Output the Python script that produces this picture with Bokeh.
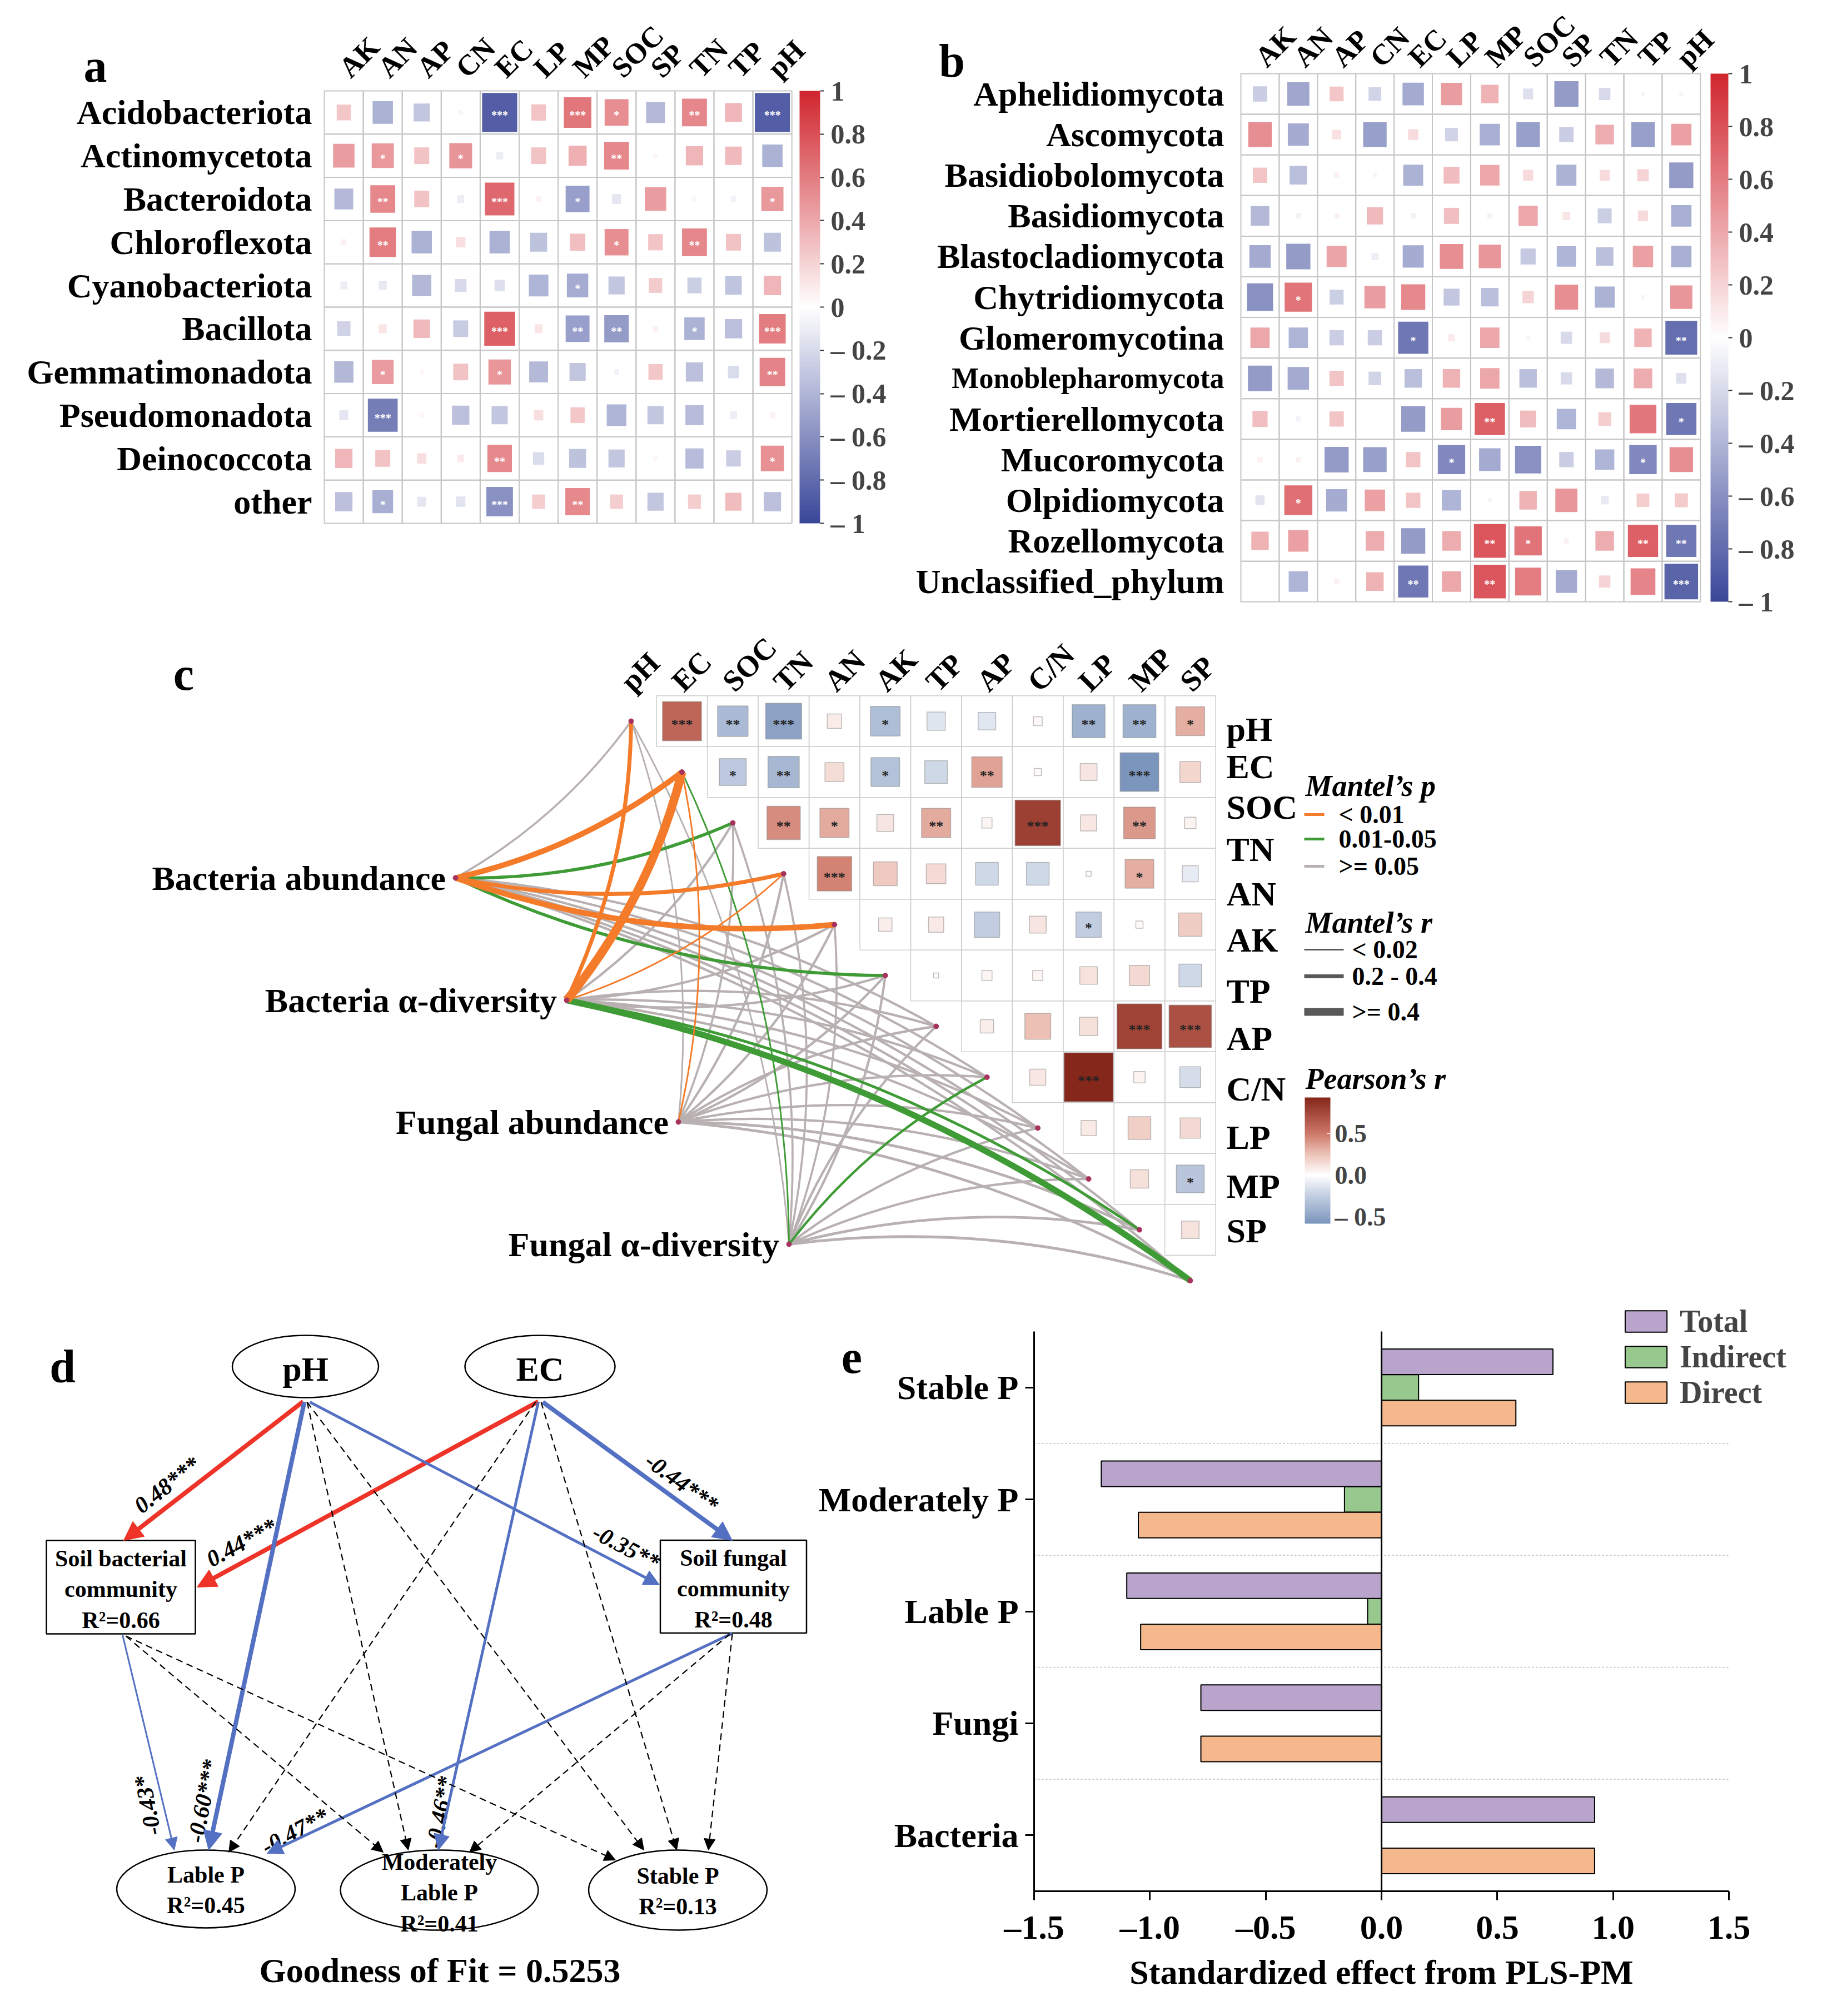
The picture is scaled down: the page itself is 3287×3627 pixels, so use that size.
import math
from bokeh.plotting import figure
from bokeh.layouts import column, row
from bokeh.models import (ColumnDataSource, Range1d, ColorBar, LinearColorMapper,
                          FixedTicker, Legend, LegendItem, Arrow, NormalHead,
                          CustomJSTickFormatter, AllLabels)
from bokeh.core.properties import value
from bokeh.transform import transform, dodge
from bokeh.embed import file_html
from bokeh.resources import INLINE

SERIF = "Liberation Serif"

# ============================ DATA ============================
# ---- (a) bacterial phyla vs soil properties (Pearson r) ----
soil_vars = ["AK", "AN", "AP", "CN", "EC", "LP", "MP", "SOC", "SP", "TN", "TP", "pH"]
bact_phyla = ["Acidobacteriota", "Actinomycetota", "Bacteroidota", "Chloroflexota",
              "Cyanobacteriota", "Bacillota", "Gemmatimonadota", "Pseudomonadota",
              "Deinococcota", "other"]
bact_r = [
    [0.26, -0.42, -0.31, -0.05, -0.87, 0.27, 0.63, 0.52, -0.38, 0.55, 0.33, -0.87],
    [0.45, 0.47, 0.28, 0.49, -0.10, 0.28, 0.36, 0.55, 0.05, 0.34, 0.32, -0.42],
    [-0.38, 0.55, 0.28, -0.10, 0.69, 0.07, -0.52, -0.14, 0.45, 0.05, -0.07, 0.47],
    [0.07, 0.60, -0.42, 0.15, -0.42, -0.33, 0.29, 0.52, 0.27, 0.55, 0.28, -0.33],
    [-0.10, -0.12, -0.39, -0.20, -0.17, -0.40, -0.45, -0.31, 0.24, -0.26, -0.32, 0.34],
    [-0.24, 0.12, 0.32, -0.28, 0.73, 0.12, -0.52, -0.54, 0.07, -0.42, -0.34, 0.60],
    [-0.39, 0.46, 0.05, 0.28, 0.48, -0.38, -0.31, -0.07, 0.26, -0.34, -0.19, 0.57],
    [-0.14, -0.70, 0.05, -0.34, -0.31, 0.15, 0.26, -0.40, -0.31, -0.36, -0.10, 0.07],
    [0.34, 0.28, 0.15, 0.10, 0.54, -0.19, -0.33, -0.31, 0.05, -0.36, -0.27, 0.50],
    [-0.34, -0.43, -0.14, -0.15, -0.60, 0.23, 0.54, 0.23, -0.31, 0.23, 0.31, -0.34],
]
bact_sig = {
    ("Acidobacteriota", "EC"): "***", ("Acidobacteriota", "MP"): "***",
    ("Acidobacteriota", "SOC"): "*", ("Acidobacteriota", "TN"): "**",
    ("Acidobacteriota", "pH"): "***",
    ("Actinomycetota", "AN"): "*", ("Actinomycetota", "CN"): "*", ("Actinomycetota", "SOC"): "**",
    ("Bacteroidota", "AN"): "**", ("Bacteroidota", "EC"): "***", ("Bacteroidota", "MP"): "*",
    ("Bacteroidota", "pH"): "*",
    ("Chloroflexota", "AN"): "**", ("Chloroflexota", "SOC"): "*", ("Chloroflexota", "TN"): "**",
    ("Cyanobacteriota", "MP"): "*",
    ("Bacillota", "EC"): "***", ("Bacillota", "MP"): "**", ("Bacillota", "SOC"): "**",
    ("Bacillota", "TN"): "*", ("Bacillota", "pH"): "***",
    ("Gemmatimonadota", "AN"): "*", ("Gemmatimonadota", "EC"): "*", ("Gemmatimonadota", "pH"): "**",
    ("Pseudomonadota", "AN"): "***",
    ("Deinococcota", "EC"): "**", ("Deinococcota", "pH"): "*",
    ("other", "AN"): "*", ("other", "EC"): "***", ("other", "MP"): "**",
}

# ---- (b) fungal phyla vs soil properties ----
fungi_phyla = ["Aphelidiomycota", "Ascomycota", "Basidiobolomycota", "Basidiomycota",
               "Blastocladiomycota", "Chytridiomycota", "Glomeromycotina", "Monoblepharomycota",
               "Mortierellomycota", "Mucoromycota", "Olpidiomycota", "Rozellomycota",
               "Unclassified_phylum"]
fungi_r = [
    [-0.27, -0.48, 0.26, -0.23, -0.46, 0.45, 0.35, -0.17, -0.54, -0.20, -0.05, -0.05],
    [0.52, -0.45, 0.14, -0.52, 0.17, -0.23, -0.43, -0.52, -0.27, 0.38, -0.52, 0.43],
    [0.27, -0.35, 0.07, -0.05, -0.42, 0.31, 0.40, 0.17, -0.42, 0.17, 0.20, -0.54],
    [-0.38, -0.07, 0.07, 0.32, -0.07, 0.29, -0.07, 0.40, 0.12, -0.26, 0.17, -0.43],
    [-0.46, -0.54, 0.42, -0.10, -0.45, 0.52, 0.48, -0.29, -0.40, -0.35, 0.43, -0.43],
    [-0.60, 0.64, -0.26, 0.45, 0.54, -0.31, -0.35, 0.20, 0.52, -0.42, -0.05, 0.48],
    [0.40, -0.40, -0.27, -0.27, -0.73, 0.10, 0.40, -0.05, -0.20, 0.17, 0.35, -0.78],
    [-0.54, -0.46, 0.27, -0.23, -0.35, 0.35, 0.40, -0.35, -0.20, -0.38, 0.38, -0.17],
    [0.29, -0.07, 0.27, 0.02, -0.54, 0.45, 0.73, 0.31, -0.40, 0.23, 0.62, -0.73],
    [0.07, 0.07, -0.54, -0.52, 0.27, -0.64, -0.46, -0.60, -0.27, -0.40, -0.64, 0.52],
    [-0.15, 0.66, -0.45, 0.43, 0.27, -0.40, -0.05, 0.35, 0.48, -0.12, 0.23, 0.24],
    [0.35, 0.43, 0.02, 0.38, -0.54, 0.38, 0.78, 0.64, 0.07, 0.38, 0.73, -0.73],
    [0.02, -0.40, 0.07, 0.35, -0.73, 0.40, 0.78, 0.60, -0.46, 0.20, 0.56, -0.84],
]
fungi_sig = {
    ("Chytridiomycota", "AN"): "*",
    ("Glomeromycotina", "EC"): "*", ("Glomeromycotina", "pH"): "**",
    ("Mortierellomycota", "MP"): "**", ("Mortierellomycota", "pH"): "*",
    ("Mucoromycota", "LP"): "*", ("Mucoromycota", "TP"): "*",
    ("Olpidiomycota", "AN"): "*",
    ("Rozellomycota", "MP"): "**", ("Rozellomycota", "SOC"): "*",
    ("Rozellomycota", "TP"): "**", ("Rozellomycota", "pH"): "**",
    ("Unclassified_phylum", "EC"): "**", ("Unclassified_phylum", "MP"): "**",
    ("Unclassified_phylum", "pH"): "***",
}

# ---- (c) soil property correlations (upper triangle) + Mantel tests ----
pc_vars = ["pH", "EC", "SOC", "TN", "AN", "AK", "TP", "AP", "C/N", "LP", "MP", "SP"]
pc_r = [
    [0.59, -0.36, -0.50, 0.08, -0.34, -0.13, -0.12, 0.03, -0.42, -0.42, 0.32],
    [-0.28, -0.38, 0.14, -0.32, -0.20, 0.36, 0.02, 0.11, -0.58, 0.17],
    [0.43, 0.33, 0.11, 0.33, 0.04, 0.80, 0.10, 0.39, 0.05],
    [0.46, 0.22, 0.15, -0.20, -0.20, 0.01, 0.32, -0.10],
    [0.07, 0.09, -0.25, 0.11, -0.25, 0.02, 0.21],
    [0.01, 0.04, 0.04, 0.12, 0.16, -0.20],
    [0.07, 0.26, 0.13, 0.78, 0.70],
    [0.10, 0.93, 0.05, -0.17],
    [0.09, 0.20, 0.16],
    [0.13, -0.30],
    [0.12],
]
pc_sig = [
    ["***", "**", "***", "", "*", "", "", "", "**", "**", "*"],
    ["*", "**", "", "*", "", "**", "", "", "***", ""],
    ["**", "*", "", "**", "", "***", "", "**", ""],
    ["***", "", "", "", "", "", "*", ""],
    ["", "", "", "", "*", "", ""],
    ["", "", "", "", "", ""],
    ["", "", "", "***", "***"],
    ["", "***", "", ""],
    ["", "", ""],
    ["", "*"],
    [""],
]
mantel_sources = ["Bacteria abundance", "Bacteria \u03b1-diversity", "Fungal abundance",
                  "Fungal \u03b1-diversity"]
mantel_r = [
    [0.08, 0.30, 0.15, 0.20, 0.30, 0.15, 0.10, 0.10, 0.10, 0.10, 0.10, 0.10],
    [0.20, 0.50, 0.10, 0.05, 0.10, 0.10, 0.10, 0.10, 0.10, 0.10, 0.12, 0.34],
    [0.05, 0.05, 0.08, 0.10, 0.10, 0.10, 0.10, 0.10, 0.10, 0.10, 0.12, 0.12],
    [0.05, 0.05, 0.08, 0.08, 0.08, 0.10, 0.10, 0.10, 0.10, 0.10, 0.12, 0.12],
]
mantel_p = [
    [0.30, 0.001, 0.02, 0.005, 0.001, 0.03, 0.20, 0.30, 0.40, 0.30, 0.20, 0.50],
    [0.002, 0.001, 0.30, 0.008, 0.20, 0.30, 0.40, 0.30, 0.50, 0.20, 0.04, 0.015],
    [0.30, 0.006, 0.40, 0.30, 0.20, 0.30, 0.40, 0.30, 0.50, 0.20, 0.30, 0.40],
    [0.40, 0.03, 0.30, 0.40, 0.20, 0.30, 0.40, 0.04, 0.50, 0.20, 0.30, 0.40],
]
mantel_p_labels = ["< 0.01", "0.01-0.05", ">= 0.05"]
mantel_r_labels = ["< 0.02", "0.2 - 0.4", ">= 0.4"]

# ---- (d) PLS-PM path model ----
sem_from = ["pH", "EC", "pH", "EC", "pH", "EC", "Soil bacterial", "Soil fungal",
            "pH", "pH", "EC", "EC", "Soil bacterial", "Soil bacterial", "Soil fungal", "Soil fungal"]
sem_to = ["Soil bacterial", "Soil bacterial", "Soil fungal", "Soil fungal", "Lable P",
          "Moderately Lable P", "Lable P", "Lable P",
          "Moderately Lable P", "Stable P", "Lable P", "Stable P",
          "Moderately Lable P", "Stable P", "Moderately Lable P", "Stable P"]
sem_coef = [0.48, 0.44, -0.35, -0.44, -0.60, -0.46, -0.43, -0.47,
            None, None, None, None, None, None, None, None]
sem_sig = ["***", "***", "**", "***", "***", "**", "*", "**", "", "", "", "", "", "", "", ""]
sem_r2 = {"Soil bacterial": 0.66, "Soil fungal": 0.48, "Lable P": 0.45,
          "Moderately Lable P": 0.41, "Stable P": 0.13}
goodness_of_fit = 0.5253

# ---- (e) standardized effects ----
pls_cats = ["Stable P", "Moderately P", "Lable P", "Fungi", "Bacteria"]
pls_total = [0.74, -1.21, -1.10, -0.78, 0.92]
pls_indirect = [0.16, -0.16, -0.06, None, None]
pls_direct = [0.58, -1.05, -1.04, -0.78, 0.92]
pls_ticks = [-1.5, -1.0, -0.5, 0.0, 0.5, 1.0, 1.5]


# ============================ HELPERS ============================
def lerp_palette(stops, n=256):
    pal = []
    for i in range(n):
        t = i / (n - 1)
        for (t0, c0), (t1, c1) in zip(stops[:-1], stops[1:]):
            if t <= t1 + 1e-12:
                f = 0.0 if t1 == t0 else min(max((t - t0) / (t1 - t0), 0.0), 1.0)
                a = [int(c0[k:k + 2], 16) for k in (1, 3, 5)]
                b = [int(c1[k:k + 2], 16) for k in (1, 3, 5)]
                pal.append("#%02x%02x%02x" % tuple(int(round(a[k] + (b[k] - a[k]) * f)) for k in range(3)))
                break
    return pal


def bare_fig(W, H, xr, yr):
    p = figure(width=W, height=H, x_range=xr, y_range=yr, toolbar_location=None,
               output_backend="svg", min_border=0, x_axis_location=None, y_axis_location=None)
    p.grid.visible = False
    p.outline_line_color = None
    return p


def txt(p, xs, ys, texts, size, align="center", baseline="middle", angle=0.0,
        color="black", style="bold", **kw):
    src = ColumnDataSource(dict(x=list(xs), y=list(ys), t=list(texts)))
    p.text("x", "y", text="t", source=src, angle=angle, text_font=value(SERIF),
           text_font_size=size, text_font_style=style, text_color=color,
           text_align=align, text_baseline=baseline, **kw)


PAL_AB = lerp_palette([(0.0, "#3A4799"), (0.5, "#FFFFFF"), (1.0, "#D0262E")])
CB_TICKS_AB = [-1, -0.8, -0.6, -0.4, -0.2, 0, 0.2, 0.4, 0.6, 0.8, 1]


# ============================ PANELS a & b ============================
def heat_panel(rows, cols, rmat, sigmap, geo, letter, row_fs):
    ox, oy, W, H = geo["fig"]
    gx, gy, cw, ch = geo["grid"]
    n, m = len(rows), len(cols)

    def dx(px):
        return (px - gx) / cw - 0.5

    def dy(py):
        return (gy + ch * n - py) / ch - 0.5

    p = bare_fig(W, H, Range1d(dx(ox), dx(ox + W)), Range1d(dy(oy + H), dy(oy)))
    xs, ys, rv, sz, st = [], [], [], [], []
    for i, rn in enumerate(rows):
        for j, cn in enumerate(cols):
            v = rmat[i][j]
            xs.append(j)
            ys.append(n - 1 - i)
            rv.append(v)
            sz.append(abs(v) ** 0.75)
            st.append(sigmap.get((rn, cn), ""))
    src = ColumnDataSource(dict(x=xs, y=ys, r=rv, s=sz, sig=st))
    mapper = LinearColorMapper(palette=PAL_AB, low=-1, high=1)
    p.rect("x", "y", width=1, height=1, source=src, fill_color=None,
           line_color="#C6C6C6", line_width=2)
    p.rect("x", "y", width="s", height="s", source=src,
           fill_color=transform("r", mapper), line_color=None)
    p.text("x", "y", text="sig", source=src, text_color="white", text_font=value(SERIF),
           text_font_size="20px", text_font_style="bold", text_align="center",
           text_baseline="middle", y_offset=5)
    lab = ColumnDataSource(dict(x=[dx(geo["row_label_right"])] * n,
                                y=[n - 1 - i for i in range(n)], t=rows, fs=row_fs))
    p.text("x", "y", text="t", source=lab, text_font=value(SERIF), text_font_size="fs",
           text_font_style="bold", text_align="right", text_baseline="middle")
    txt(p, [j for j in range(m)], [dy(geo["col_label_base"])] * m, cols, "52px",
        align="left", baseline="alphabetic", angle=math.pi / 4)
    lx, ly = geo["letter"]
    txt(p, [dx(lx)], [dy(ly)], [letter], "84px", baseline="alphabetic")
    cbx, cbtop, cbw, cbh = geo["cbar"]
    cb = ColorBar(color_mapper=mapper, location=(cbx - ox, (oy + H) - (cbtop + cbh)),
                  width=cbw, height=cbh, padding=0, margin=0,
                  ticker=FixedTicker(ticks=CB_TICKS_AB),
                  formatter=CustomJSTickFormatter(code="""
const s = String(Math.round(Math.abs(tick) * 10) / 10);
return tick < -1e-9 ? "\u2013 " + s : s;"""),
                  major_label_policy=AllLabels(),
                  major_label_text_font=SERIF,
                  major_label_text_font_size="50px", major_label_text_font_style="bold",
                  label_standoff=12, major_tick_line_color="#333333", major_tick_in=0,
                  major_tick_out=7, major_tick_line_width=2, minor_tick_line_color=None,
                  bar_line_color=None, border_line_color=None, background_fill_color=None)
    p.add_layout(cb)
    return p


GEO_A = dict(fig=(8, 8, 1632, 1112), grid=(591, 171, 70.1, 77.8), row_label_right=569,
             col_label_base=138, letter=(179, 126), cbar=(1446, 171, 37, 778))
GEO_B = dict(fig=(1640, 8, 1637, 1112), grid=(2240, 140, 68.9, 73.1), row_label_right=2210,
             col_label_base=119, letter=(1720, 117), cbar=(3085, 140, 32, 950))

pa = heat_panel(bact_phyla, soil_vars, bact_r, bact_sig, GEO_A, "a", ["62px"] * len(bact_phyla))
fs_b = ["52px" if nm == "Monoblepharomycota" else "62px" for nm in fungi_phyla]
pb = heat_panel(fungi_phyla, soil_vars, fungi_r, fungi_sig, GEO_B, "b", fs_b)

# ============================ PANEL c ============================
C_X0, C_Y0, C_SX, C_SY = 1143.0, 1305.0, 91.45, 91.5   # layout of the matrix (page px)


def cxd(px):
    return (px - C_X0) / C_SX


def cyd(py):
    return -(py - C_Y0) / C_SY


pc = bare_fig(3269, 1210, Range1d(cxd(8), cxd(3277)), Range1d(cyd(2330), cyd(1120)))

SRC_PX = [(827, 1587), (1027, 1807), (1228, 2026), (1427, 2246)]
COL_P = {"grey": "#B9B1B1", "green": "#3E9B35", "orange": "#F47B2A"}
links = {"grey": [], "green": [], "orange": []}
for si in range(len(mantel_sources)):
    sx, sy = cxd(SRC_PX[si][0]), cyd(SRC_PX[si][1])
    for k in range(len(pc_vars)):
        tx, ty = float(k), float(-k)
        ddx, ddy = tx - sx, ty - sy
        L = math.hypot(ddx, ddy)
        sgn = 1.0 if k < 6 else -1.0
        nx, ny = ddy / L, -ddx / L
        ctrl_x = (sx + tx) / 2 + sgn * 0.11 * L * nx
        ctrl_y = (sy + ty) / 2 + sgn * 0.11 * L * ny
        pv = mantel_p[si][k]
        cat = "orange" if pv < 0.01 else ("green" if pv < 0.05 else "grey")
        links[cat].append((sx, sy, tx, ty, ctrl_x, ctrl_y, 1.5 + 28 * mantel_r[si][k]))
for cat in ["grey", "green", "orange"]:
    L_ = sorted(links[cat], key=lambda t: t[6])
    if not L_:
        continue
    s = ColumnDataSource(dict(x0=[t[0] for t in L_], y0=[t[1] for t in L_],
                              x1=[t[2] for t in L_], y1=[t[3] for t in L_],
                              cx=[t[4] for t in L_], cy=[t[5] for t in L_],
                              w=[t[6] for t in L_]))
    pc.quadratic(x0="x0", y0="y0", x1="x1", y1="y1", cx="cx", cy="cy", source=s,
                 line_color=COL_P[cat], line_width="w")

mx, my, mr, ms, mst = [], [], [], [], []
for i in range(len(pc_r)):
    for jj, v in enumerate(pc_r[i]):
        j = i + 1 + jj
        mx.append(j)
        my.append(-i)
        mr.append(v)
        ms.append(abs(v) ** 0.5)
        mst.append(pc_sig[i][jj])
msrc = ColumnDataSource(dict(x=mx, y=my, r=mr, s=ms, sig=mst))
lo_c, hi_c = min(mr), max(mr)


def vt(v):
    return (v - lo_c) / (hi_c - lo_c)


PAL_C = lerp_palette([(0.0, "#7B95BD"), (vt(-0.25), "#C3CEE1"), (vt(0.0), "#FFFFFF"),
                      (vt(0.25), "#EDC3B8"), (vt(0.5), "#CD7868"), (1.0, "#86271C")])
mapper_c = LinearColorMapper(palette=PAL_C, low=lo_c, high=hi_c)
pc.rect("x", "y", width=1, height=1, source=msrc, fill_color=None, line_color="#CFCFCF",
        line_width=1.5)
pc.rect("x", "y", width="s", height="s", source=msrc, fill_color=transform("r", mapper_c),
        line_color="#8A8A8A", line_alpha=0.55, line_width=1.5)
pc.text("x", "y", text="sig", source=msrc, text_color="#222222", text_font=value(SERIF),
        text_font_size="26px", text_font_style="bold", text_align="center",
        text_baseline="middle", y_offset=6)

pc.scatter([float(k) for k in range(len(pc_vars))], [float(-k) for k in range(len(pc_vars))],
           size=9, color="#A8325E")
pc.scatter([cxd(a) for a, b in SRC_PX], [cyd(b) for a, b in SRC_PX], size=9, color="#A8325E")

txt(pc, [cxd(a) - 0.19 for a, b in SRC_PX], [cyd(b) for a, b in SRC_PX], mantel_sources, "62px",
    align="right")
txt(pc, [k - 0.1 for k in range(len(pc_vars))], [cyd(1242)] * len(pc_vars), pc_vars, "54px",
    align="left", baseline="alphabetic", angle=math.pi / 4)
RIGHT_LABEL_Y = [1319, 1386, 1459, 1535, 1615, 1698, 1790, 1875, 1966, 2053, 2141, 2221]
txt(pc, [cxd(2214)] * len(pc_vars), [cyd(v) for v in RIGHT_LABEL_Y], pc_vars, "62px", align="left")
txt(pc, [cxd(338)], [cyd(1220)], ["c"], "84px", baseline="alphabetic")

txt(pc, [cxd(2356)], [cyd(1421)], ["Mantel\u2019s p"], "54px", align="left", style="bold italic")
LEG_P_Y = [1473, 1517, 1566]
for yy, cat in zip(LEG_P_Y, ["orange", "green", "grey"]):
    pc.segment(cxd(2354), cyd(yy), cxd(2390), cyd(yy), line_color=COL_P[cat], line_width=5)
txt(pc, [cxd(2416)] * 3, [cyd(v) for v in LEG_P_Y], mantel_p_labels, "46px", align="left")
txt(pc, [cxd(2356)], [cyd(1667)], ["Mantel\u2019s r"], "54px", align="left", style="bold italic")
LEG_R_Y = [1716, 1764, 1828]
for yy, rr in zip(LEG_R_Y, [0.05, 0.2, 0.45]):
    pc.segment(cxd(2354), cyd(yy), cxd(2425), cyd(yy), line_color="#595959",
               line_width=1.5 + 28 * rr)
txt(pc, [cxd(2440)] * 3, [cyd(v) for v in LEG_R_Y], mantel_r_labels, "46px", align="left")
txt(pc, [cxd(2356)], [cyd(1948)], ["Pearson\u2019s r"], "54px", align="left", style="bold italic")
cb_c = ColorBar(color_mapper=mapper_c, location=(2355 - 8, 2330 - 2209), width=46, height=227,
                padding=0, margin=0, ticker=FixedTicker(ticks=[-0.5, 0.0, 0.5]),
                formatter=CustomJSTickFormatter(code="""
const s = Math.abs(tick).toFixed(1);
return tick < -1e-9 ? "\u2013 " + s : s;"""),
                major_label_policy=AllLabels(),
                major_label_text_font=SERIF, major_label_text_font_size="46px",
                major_label_text_font_style="bold", label_standoff=8,
                major_tick_line_color="white", major_tick_in=6, major_tick_out=0,
                minor_tick_line_color=None, bar_line_color=None, border_line_color=None,
                background_fill_color=None)
pc.add_layout(cb_c)

# ============================ PANEL d ============================
pdd = bare_fig(1462, 1286, Range1d(8, 1470), Range1d(-3616, -2330))
NODE_LAYOUT = {
    "pH": ("ellipse", 557, 2466, 263, 112, "62px", 2470),
    "EC": ("ellipse", 979, 2466, 270, 112, "62px", 2470),
    "Soil bacterial": ("box", 225, 2863, 268, 168, "42px", 2867),
    "Soil fungal": ("box", 1327, 2862, 263, 167, "42px", 2866),
    "Lable P": ("ellipse", 378, 3406, 321, 140, "42px", 3408),
    "Moderately Lable P": ("ellipse", 798, 3408, 356, 144, "42px", 3413),
    "Stable P": ("ellipse", 1227, 3408, 321, 144, "42px", 3410),
}
NODE_TEXT = {
    "pH": "pH", "EC": "EC",
    "Soil bacterial": "Soil bacterial\ncommunity\nR\u00b2=%.2f" % sem_r2["Soil bacterial"],
    "Soil fungal": "Soil fungal\ncommunity\nR\u00b2=%.2f" % sem_r2["Soil fungal"],
    "Lable P": "Lable P\nR\u00b2=%.2f" % sem_r2["Lable P"],
    "Moderately Lable P": "Moderately\nLable P\nR\u00b2=%.2f" % sem_r2["Moderately Lable P"],
    "Stable P": "Stable P\nR\u00b2=%.2f" % sem_r2["Stable P"],
}
for nm, (shape, ncx, ncy, nw, nh, fs, ty) in NODE_LAYOUT.items():
    if shape == "ellipse":
        pdd.ellipse(x=[ncx], y=[-ncy], width=nw, height=nh, fill_color="white",
                    line_color="black", line_width=2.5)
    else:
        pdd.rect(x=[ncx], y=[-ncy], width=nw, height=nh, fill_color="white",
                 line_color="black", line_width=2.5)
    src = ColumnDataSource(dict(x=[ncx], y=[-ty], t=[NODE_TEXT[nm]]))
    pdd.text("x", "y", text="t", source=src, text_font=value(SERIF), text_font_size=fs,
             text_font_style="bold", text_align="center", text_baseline="middle",
             text_line_height=1.2)

ARROW_PX = [((553, 2529), (230, 2779)), ((976, 2529), (362, 2863)), ((565, 2530), (1194, 2859)),
            ((984, 2530), (1325, 2779)), ((555, 2530), (383, 3336)), ((976, 2530), (796, 3336)),
            ((228, 2949), (321, 3336)), ((1325, 2946), (488, 3342)), ((560, 2530), (742, 3336)),
            ((560, 2530), (1166, 3336)), ((971, 2530), (419, 3340)), ((981, 2530), (1225, 3336)),
            ((234, 2951), (697, 3340)), ((234, 2951), (1115, 3354)), ((1321, 2947), (852, 3340)),
            ((1325, 2947), (1282, 3336))]
LABEL_PX = [(308, 2679, 38), (442, 2783, 28.5), (1134, 2791, -27.6), (1234, 2675, -36),
            (373, 3248, 79), (799, 3268, 80), (273, 3256, 101), (538, 3302, 28)]
WIDTH_BY_SIG = {"***": 8, "**": 5, "*": 3, "": 2.2}
HEAD_BY_SIG = {"***": 34, "**": 28, "*": 22, "": 20}
for idx in range(len(sem_from)):
    (x0, y0), (x1, y1) = ARROW_PX[idx]
    c = sem_coef[idx]
    sg = sem_sig[idx]
    if c is None:
        col, dash = "black", "12 8"
    else:
        col, dash = ("#EE3428" if c > 0 else "#5470C2"), "solid"
    pdd.add_layout(Arrow(end=NormalHead(size=HEAD_BY_SIG[sg], fill_color=col, line_color=col,
                                        line_width=1),
                         x_start=x0, y_start=-y0, x_end=x1, y_end=-y1, line_color=col,
                         line_width=WIDTH_BY_SIG[sg], line_dash=dash))
for idx in range(len(LABEL_PX)):
    lx, ly, ang = LABEL_PX[idx]
    txt(pdd, [lx], [-ly], ["%.2f%s" % (sem_coef[idx], sem_sig[idx])], "42px",
        angle=math.radians(ang), style="bold italic")
txt(pdd, [799], [-3552], ["Goodness of Fit = %.4f" % goodness_of_fit], "62px")
txt(pdd, [120], [-2466], ["d"], "84px", baseline="alphabetic")

# ============================ PANEL e ============================
E_UX, E_UY = 416.7, 201.4      # px per unit (layout)


def ex(px):
    return -1.5 + (px - 1868) / E_UX


def ey(py):
    return (3410 - py) / E_UY


ncat = len(pls_cats)
pe = figure(width=1807, height=1286, x_range=Range1d(ex(1470), ex(3277)),
            y_range=Range1d(ey(3616), ey(2330)), toolbar_location=None,
            output_backend="svg", min_border=0)
pe.grid.visible = False
pe.outline_line_color = None
yc = [ncat - 0.5 - i for i in range(ncat)]
BAR_H, BAR_OFF = 0.228, 0.229
seps = [float(i) for i in range(1, ncat)]
pe.segment(x0=[pls_ticks[0]] * len(seps), y0=seps, x1=[pls_ticks[-1]] * len(seps), y1=seps,
           line_color="#C4C4C4", line_dash="3 4", line_width=2)
s_tot = ColumnDataSource(dict(yc=yc, v=pls_total))
s_ind = ColumnDataSource(dict(yc=[y for y, v in zip(yc, pls_indirect) if v is not None],
                              v=[v for v in pls_indirect if v is not None]))
s_dir = ColumnDataSource(dict(yc=yc, v=pls_direct))
r_tot = pe.hbar(y=dodge("yc", BAR_OFF), left=0, right="v", height=BAR_H,
                source=s_tot, fill_color="#B9A5CB", line_color="black", line_width=2)
r_ind = pe.hbar(y=dodge("yc", 0.0), left=0, right="v", height=BAR_H,
                source=s_ind, fill_color="#97C98F", line_color="black", line_width=2)
r_dir = pe.hbar(y=dodge("yc", -BAR_OFF), left=0, right="v", height=BAR_H,
                source=s_dir, fill_color="#F5B88D", line_color="black", line_width=2)
pe.segment(x0=[0], y0=[0], x1=[0], y1=[float(ncat)], line_color="black", line_width=3)

pe.xaxis.fixed_location = 0
pe.yaxis.fixed_location = pls_ticks[0]
pe.xaxis.bounds = (pls_ticks[0], pls_ticks[-1])
pe.yaxis.bounds = (0, ncat)
for ax in (pe.xaxis[0], pe.yaxis[0]):
    ax.axis_line_width = 3
    ax.major_tick_line_width = 3
    ax.major_tick_in = 0
    ax.major_tick_out = 16
    ax.minor_tick_line_color = None
    ax.major_label_text_font = SERIF
    ax.major_label_text_font_size = "62px"
    ax.major_label_text_font_style = "bold"
    ax.major_label_text_color = "black"
    ax.major_label_policy = AllLabels()
pe.xaxis.ticker = FixedTicker(ticks=pls_ticks)
pe.xaxis.formatter = CustomJSTickFormatter(code="""
const s = Math.abs(tick).toFixed(1);
return tick < -1e-9 ? "\u2013" + s : s;""")
pe.yaxis.ticker = FixedTicker(ticks=yc)
pe.yaxis.formatter = CustomJSTickFormatter(args=dict(labels=pls_cats), code="""
return labels[labels.length - 1 - Math.round(tick - 0.5)];""")
pe.xaxis.major_label_standoff = 14
pe.yaxis.major_label_standoff = 12
pe.xaxis.axis_label = "Standardized effect from PLS-PM"
pe.xaxis.axis_label_text_font = SERIF
pe.xaxis.axis_label_text_font_size = "62px"
pe.xaxis.axis_label_text_font_style = "bold"
pe.xaxis.axis_label_text_color = "black"
pe.xaxis.axis_label_standoff = 10
leg = Legend(items=[LegendItem(label="Total", renderers=[r_tot]),
                    LegendItem(label="Indirect", renderers=[r_ind]),
                    LegendItem(label="Direct", renderers=[r_dir])],
             location=(2922 - 1470, 3616 - 2545), glyph_width=94, glyph_height=48,
             label_text_font=SERIF, label_text_font_size="56px", label_text_font_style="bold",
             label_standoff=14, label_height=48, spacing=0, padding=0, margin=0,
             border_line_color=None, background_fill_alpha=0)
pe.add_layout(leg)
txt(pe, [ex(1540)], [ey(2449)], ["e"], "84px", baseline="alphabetic")

layout = column(row(pa, pb), pc, row(pdd, pe))
with open("out.html", "w", encoding="utf-8") as f:
    f.write(file_html(layout, INLINE))
